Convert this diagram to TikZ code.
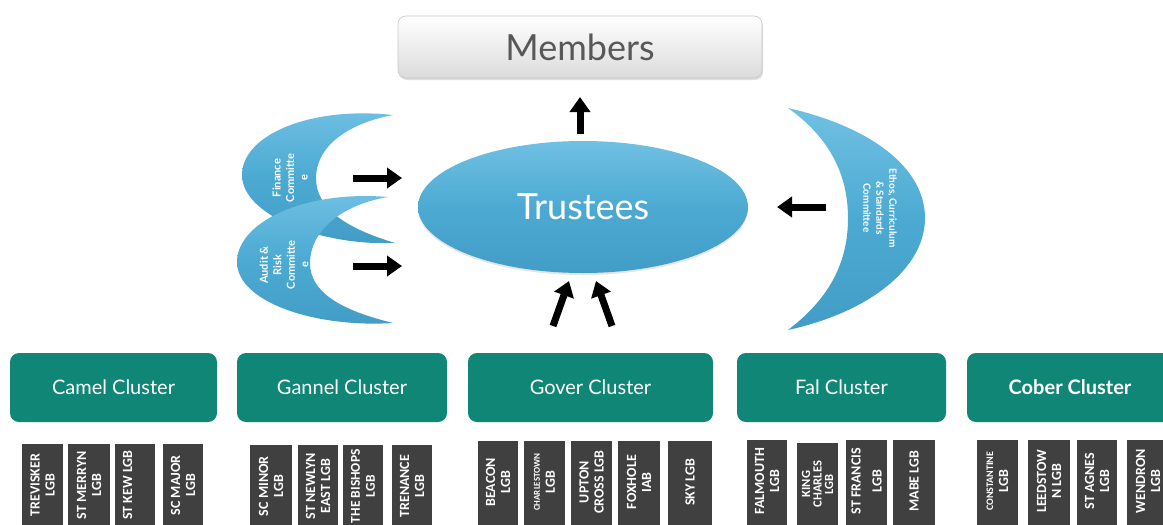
\documentclass[tikz,border=0pt]{standalone}
\usepackage{fontspec}
\setmainfont{Lato}
\newfontfamily\barfont{Carlito}
\usetikzlibrary{arrows.meta,shadows,shapes.geometric}
\definecolor{teal1}{RGB}{16,134,118}
\definecolor{skyb}{RGB}{76,170,210}
\definecolor{skyd}{RGB}{66,157,198}
\definecolor{skyl}{RGB}{112,192,227}
\definecolor{bardark}{RGB}{64,64,64}
\definecolor{memgrey}{RGB}{88,88,88}
\tikzset{
  cluster/.style={rounded corners=9pt, fill=teal1, text=white, font=\fontsize{20}{22}\selectfont, minimum height=69pt, inner sep=0pt},
  lgbbar/.style={rotate=90, anchor=east, fill=bardark, text=white, align=center, inner sep=0pt, minimum width=82pt, font=\barfont\bfseries\fontsize{14}{15}\selectfont},
  fatarrow/.style={line width=7pt, -{Triangle[width=20pt,length=15pt]}},
  crescent/.style={top color=skyl, bottom color=skyd, middle color=skyb, draw=none},
  crestext/.style={text=white, align=center, inner sep=0pt, font=\bfseries\fontsize{11}{13.5}\selectfont},
  membox/.style={rounded corners=8pt, top color=white, bottom color=black!14, draw=black!22, line width=0.6pt, minimum width=364pt, minimum height=62pt, text=memgrey, font=\fontsize{36}{40}\selectfont, drop shadow={opacity=0.25, shadow xshift=1pt, shadow yshift=-2pt}},
  trbox/.style={ellipse, top color=skyl, bottom color=skyd, middle color=skyb, draw=none, minimum width=330pt, minimum height=132pt, text=white, font=\fontsize{36}{40}\selectfont, drop shadow={opacity=0.2, shadow xshift=0pt, shadow yshift=-2pt}}
}
\begin{document}
\begin{tikzpicture}[x=1pt,y=-1pt]
\useasboundingbox (0,0) rectangle (1163,525);
\clip (0,0) rectangle (1163,525);
\fill[white] (0,0) rectangle (1163,525);

% bars background (extend past the bottom edge)
\foreach \xa/\xb/\yt in {22/63/444, 68/110/444, 115/155/444, 163/203/444,
  250/292/445, 298/338/445, 343/383/445, 392/432/445,
  478/518/441, 524/565/441, 571/612/441, 618/660/441, 668/712/441,
  747/787/440, 797/838/443, 846/887/440, 893/935/440,
  977/1018/440, 1028/1070/440, 1077/1117/440, 1127/1169/440}
  \fill[bardark] (\xa,\yt) rectangle (\xb,540);

% Members
\node[membox] (mem) at (580,47) {Members};

% Trustees
\node[trbox] (tr) at (583,207) {Trustees};

% Finance crescent
\path[crescent] (393,115) .. controls (310,106) and (242,135) .. (242,175)
  .. controls (242,215) and (320,246) .. (395,243)
  .. controls (345,228) and (316,208) .. (316,178)
  .. controls (316,148) and (345,124) .. (393,115) -- cycle;
\node[crestext, rotate=90] (fin) at (290,178) {Finance\\Committe\\e};

% Audit crescent
\path[crescent] (388,197) .. controls (305,190) and (237,222) .. (237,262)
  .. controls (237,302) and (315,328) .. (393,323)
  .. controls (340,310) and (310,292) .. (310,263)
  .. controls (310,232) and (340,205) .. (388,197) -- cycle;
\node[crestext, rotate=90] (aud) at (284,265) {Audit \&\\Risk\\Committe\\e};

% Ethos crescent
\path[crescent] (788,108) .. controls (875,128) and (925,170) .. (925,218)
  .. controls (925,268) and (870,312) .. (788,330)
  .. controls (830,298) and (848,262) .. (848,218)
  .. controls (848,175) and (830,138) .. (788,108) -- cycle;
\node[crestext, rotate=-90, font=\bfseries\fontsize{10}{13}\selectfont] (eth) at (880,208) {Ethos, Curriculum\\\& Standards\\Committee};

% arrows
\coordinate (up1) at (580,134);
\coordinate (up2) at (580,97);
\draw[fatarrow] (up1) -- (up2);
\coordinate (l1s) at (353,178); \coordinate (l1e) at (402,178);
\coordinate (l2s) at (353,266); \coordinate (l2e) at (402,266);
\draw[fatarrow] (l1s) -- (l1e);
\draw[fatarrow] (l2s) -- (l2e);
\coordinate (r1s) at (826,207); \coordinate (r1e) at (777,207);
\draw[fatarrow] (r1s) -- (r1e);
\coordinate (b1s) at (553,326); \coordinate (b1e) at (569,281);
\coordinate (b2s) at (612,326); \coordinate (b2e) at (596,281);
\draw[fatarrow] (b1s) -- (b1e);
\draw[fatarrow] (b2s) -- (b2e);

% clusters
\node[cluster, minimum width=207pt] (camel) at (113.5,387.5) {Camel Cluster};
\node[cluster, minimum width=210pt] (gannel) at (342,387.5) {Gannel Cluster};
\node[cluster, minimum width=245pt] (gover) at (590.5,387.5) {Gover Cluster};
\node[cluster, minimum width=209pt] (fal) at (841.5,387.5) {Fal Cluster};
\node[cluster, minimum width=206pt, font=\bfseries\fontsize{20}{22}\selectfont] (cober) at (1070,387.5) {Cober Cluster};

% Camel LGBs
\node[lgbbar, minimum height=41pt] (c1) at (42.5,444) {TREVISKER\\LGB};
\node[lgbbar, minimum height=42pt] (c2) at (89,444) {ST MERRYN\\LGB};
\node[lgbbar, minimum height=40pt] (c3) at (135,444) {ST KEW LGB\\\phantom{L}};
\node[lgbbar, minimum height=40pt] (c4) at (183,444) {SC MAJOR\\LGB};

% Gannel LGBs
\node[lgbbar, minimum height=42pt] (g1) at (271,445) {SC MINOR\\LGB};
\node[lgbbar, minimum height=40pt] (g2) at (318,445) {ST NEWLYN\\EAST LGB};
\node[lgbbar, minimum height=40pt, font=\barfont\bfseries\fontsize{13.5}{15}\selectfont] (g3) at (363,445) {THE BISHOPS\\LGB};
\node[lgbbar, minimum height=40pt] (g4) at (412,445) {TRENANCE\\LGB};

% Gover LGBs
\node[lgbbar, minimum height=40pt] (v1) at (498,441) {BEACON\\LGB};
\node[lgbbar, minimum height=41pt] (v2) at (544.5,441) {{\fontsize{9}{9}\selectfont CHARLESTOWN}\\LGB};
\node[lgbbar, minimum height=41pt] (v3) at (591.5,441) {UPTON\\CROSS LGB};
\node[lgbbar, minimum height=42pt] (v4) at (639,441) {FOXHOLE\\IAB};
\node[lgbbar, minimum height=44pt] (v5) at (690,441) {SKY LGB};

% Fal LGBs
\node[lgbbar, minimum height=40pt] (f1) at (767,440) {FALMOUTH\\LGB};
\node[lgbbar, minimum height=41pt, font=\barfont\bfseries\fontsize{12.5}{11.5}\selectfont] (f2) at (817.5,443) {KING\\CHARLES\\LGB};
\node[lgbbar, minimum height=41pt] (f3) at (866.5,440) {ST FRANCIS\\[6pt]LGB};
\node[lgbbar, minimum height=42pt] (f4) at (914,440) {MABE LGB};

% Cober LGBs
\node[lgbbar, minimum height=41pt] (k1) at (997.5,440) {{\fontsize{10}{10}\selectfont CONSTANTINE}\\LGB};
\node[lgbbar, minimum height=42pt] (k2) at (1049,440) {LEEDSTOW\\N LGB};
\node[lgbbar, minimum height=40pt] (k3) at (1097,440) {ST AGNES\\LGB};
\node[lgbbar, minimum height=42pt] (k4) at (1148,440) {WENDRON\\LGB};
\end{tikzpicture}
\end{document}
